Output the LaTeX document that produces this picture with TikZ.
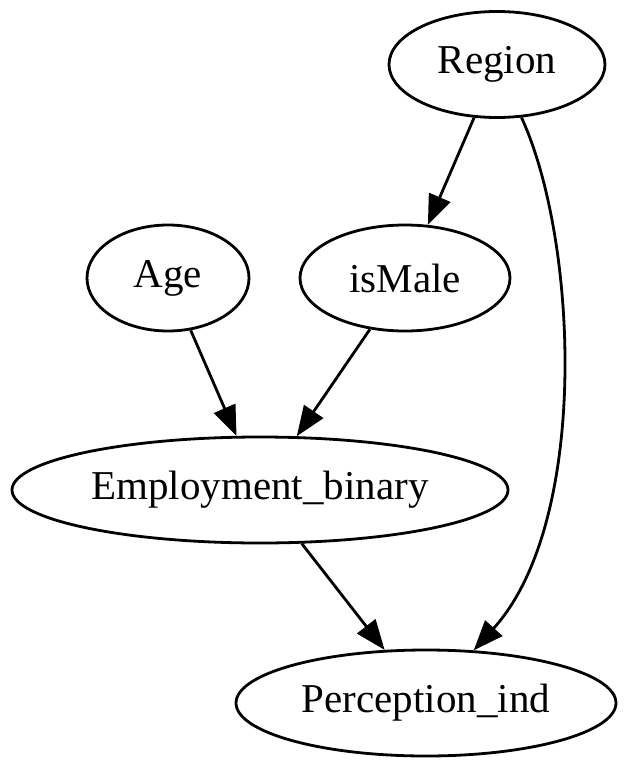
\documentclass[tikz,border=0pt]{standalone}
\usepackage{fontspec}
\setmainfont{Liberation Serif}
\usetikzlibrary{shapes.geometric,arrows.meta}

\begin{document}
\begin{tikzpicture}[x=1pt, y=-1pt,
    var/.style={draw, ellipse, line width=2.8pt, inner sep=0pt,
        minimum height=106pt, font=\fontsize{41}{41}\selectfont},
    edge/.style={line width=2.8pt, -{Triangle[length=30pt, width=23pt]}}]

    % Fix the page to the size of the reference
    \useasboundingbox (0,0) rectangle (625,768);

    % Place the variables of the graph
    \node[var, minimum width=216pt] (region) at (497,64.5) {Region};
    \node[var, minimum width=162pt] (age) at (168,278) {Age};
    \node[var, minimum width=210pt] (ismale) at (405,278) {isMale};
    \node[var, minimum width=496pt] (employment) at (260,490) {Employment\_binary};
    \node[var, minimum width=380pt] (perception) at (426,703) {Perception\_ind};

    % Draw the straight edges
    \draw[edge] (region) -- (ismale);
    \draw[edge] (age) -- (employment);
    \draw[edge] (ismale) -- (employment);
    \draw[edge] (employment) -- (perception);

    % The long edge from Region bends round to the right
    \draw[edge] (region) .. controls (578,240) and (590,522) .. (perception);

\end{tikzpicture}
\end{document}
